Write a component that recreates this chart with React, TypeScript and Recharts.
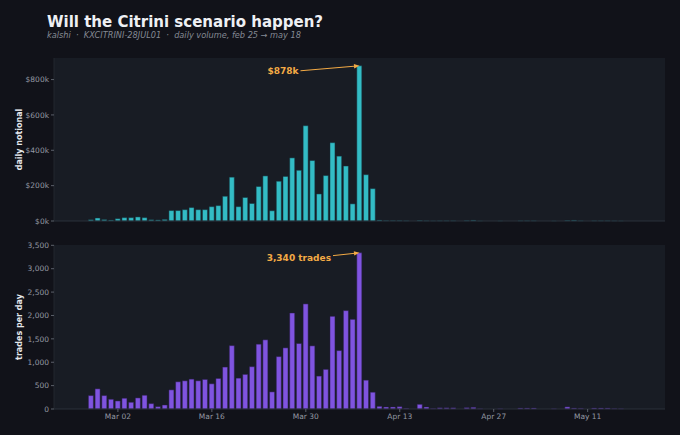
import { BarChart, Bar, XAxis, YAxis, CartesianGrid, ReferenceDot } from "recharts"

const days = [
  "Feb 25", "Feb 26", "Feb 27", "Feb 28",
  "Mar 01", "Mar 02", "Mar 03", "Mar 04", "Mar 05", "Mar 06", "Mar 07", "Mar 08", "Mar 09", "Mar 10",
  "Mar 11", "Mar 12", "Mar 13", "Mar 14", "Mar 15", "Mar 16", "Mar 17", "Mar 18", "Mar 19", "Mar 20",
  "Mar 21", "Mar 22", "Mar 23", "Mar 24", "Mar 25", "Mar 26", "Mar 27", "Mar 28", "Mar 29", "Mar 30", "Mar 31",
  "Apr 01", "Apr 02", "Apr 03", "Apr 04", "Apr 05", "Apr 06", "Apr 07", "Apr 08", "Apr 09", "Apr 10",
  "Apr 11", "Apr 12", "Apr 13", "Apr 14", "Apr 15", "Apr 16", "Apr 17", "Apr 18", "Apr 19", "Apr 20",
  "Apr 21", "Apr 22", "Apr 23", "Apr 24", "Apr 25", "Apr 26", "Apr 27", "Apr 28", "Apr 29", "Apr 30",
  "May 01", "May 02", "May 03", "May 04", "May 05", "May 06", "May 07", "May 08", "May 09", "May 10",
  "May 11", "May 12", "May 13", "May 14", "May 15", "May 16", "May 17", "May 18",
]

// daily notional, in $k
const notionalK = [
  0, 7, 17, 8,
  5, 13, 19, 19, 23, 19, 7, 6, 9, 59,
  59, 64, 76, 64, 64, 81, 87, 140, 248, 81,
  133, 99, 195, 255, 58, 225, 252, 357, 287, 539, 342,
  153, 257, 443, 367, 311, 97, 878, 262, 183, 5,
  2, 2, 2, 1, 0, 3, 1, 0.5, 1, 1,
  1, 0, 2, 4, 0.3, 0, 0, 0.3, 0, 0,
  1, 1, 1, 0, 0, 0.3, 0, 3, 4, 1,
  0, 1, 1, 1, 0.5, 0.3, 0, 0,
]

const tradesPerDay = [
  0, 287, 431, 287,
  208, 172, 230, 144, 237, 294, 115, 50, 86, 409,
  582, 603, 639, 603, 632, 539, 653, 897, 1355, 660,
  740, 905, 1386, 1479, 366, 1120, 1307, 2053, 1400, 2247, 1350,
  704, 847, 1982, 1249, 2104, 1917, 3340, 617, 359, 57,
  43, 43, 50, 14, 0, 100, 43, 10, 25, 25,
  25, 0, 28, 36, 5, 0, 0, 5, 0, 0,
  20, 20, 22, 0, 0, 5, 0, 45, 20, 15,
  0, 22, 22, 20, 8, 5, 0, 0,
]

const dateTicks = ["Mar 02", "Mar 16", "Mar 30", "Apr 13", "Apr 27", "May 11"]
const notionalTicks = [0, 200, 400, 600, 800]
const tradeTicks = [0, 500, 1000, 1500, 2000, 2500, 3000, 3500]

const rows = days.map((day, i) => ({ day, notional: notionalK[i], trades: tradesPerDay[i] }))

const peakNotional = Math.max(...notionalK)
const peakTrades = Math.max(...tradesPerDay)
const peakNotionalDay = days[notionalK.indexOf(peakNotional)]
const peakTradesDay = days[tradesPerDay.indexOf(peakTrades)]

const BG = "#111219"
const PANEL = "#181c24"
const TICK = "#9499a3"
const GOLD = "#f3aa45"
const FONT = "DejaVu Sans, Verdana, sans-serif"

function Callout(props: any) {
  const { cx, cy, text, textDx, textDy, startDx, startDy } = props
  if (cx == null || cy == null) return null
  const sx = cx + startDx
  const sy = cy + startDy
  const ang = Math.atan2(cy - sy, cx - sx)
  const len = 5.5
  const half = 2.2
  const bx = cx - len * Math.cos(ang)
  const by = cy - len * Math.sin(ang)
  const p1 = `${bx - half * Math.sin(ang)},${by + half * Math.cos(ang)}`
  const p2 = `${bx + half * Math.sin(ang)},${by - half * Math.cos(ang)}`
  return (
    <g>
      <line x1={sx} y1={sy} x2={bx} y2={by} stroke={GOLD} strokeWidth={1} />
      <polygon points={`${cx},${cy} ${p1} ${p2}`} fill={GOLD} />
      <text
        x={cx + textDx}
        y={cy + textDy}
        textAnchor="end"
        dominantBaseline="central"
        fill={GOLD}
        fontSize={9}
        fontWeight="bold"
      >
        {text}
      </text>
    </g>
  )
}

function YTitle(props: any) {
  const { viewBox, value } = props
  const x = viewBox.x + 19
  const y = viewBox.y + viewBox.height / 2
  return (
    <text
      x={x}
      y={y}
      transform={`rotate(-90, ${x}, ${y})`}
      textAnchor="middle"
      dominantBaseline="central"
      fill="#e4e7ec"
      fontSize={8}
      fontWeight="bold"
    >
      {value}
    </text>
  )
}

const tickStyle = { fill: TICK, fontSize: 7.5 }

export default function App() {
  return (
    <div
      style={{
        position: "absolute",
        left: 0,
        top: 0,
        width: 680,
        height: 435,
        background: BG,
        fontFamily: FONT,
        overflow: "hidden",
      }}
    >
      <svg width={680} height={50} style={{ position: "absolute", left: 0, top: 0 }}>
        <text x={47} y={26.5} fill="#eef0f4" fontSize={15} fontWeight="bold">
          Will the Citrini scenario happen?
        </text>
        <text
          x={47}
          y={37.5}
          fill="#858a94"
          fontSize={8.2}
          fontStyle="italic"
          style={{ whiteSpace: "pre" }}
        >
          {"kalshi  ·  KXCITRINI-28JUL01  ·  daily volume, feb 25 → may 18"}
        </text>
      </svg>

      <div style={{ position: "absolute", left: 0, top: 50 }}>
        <BarChart
          width={680}
          height={180}
          data={rows}
          margin={{ top: 8, right: 15, bottom: 0, left: 0 }}
          barCategoryGap="10%"
        >
          <CartesianGrid fill={PANEL} stroke="none" horizontal={false} vertical={false} />
          <XAxis
            dataKey="day"
            type="category"
            ticks={dateTicks}
            interval={0}
            padding={{ left: 27, right: 27 }}
            height={9}
            tick={false}
            tickSize={3}
            tickLine={{ stroke: "#5b606a" }}
            axisLine={{ stroke: "#2b303a" }}
          />
          <YAxis
            type="number"
            domain={[0, 922]}
            ticks={notionalTicks}
            width={54}
            tickSize={3}
            tickMargin={2}
            tick={tickStyle}
            tickLine={{ stroke: "#5b606a" }}
            axisLine={{ stroke: "#22262f" }}
            tickFormatter={(v: number) => `$${v}k`}
            label={<YTitle value="daily notional" />}
          />
          <Bar
            dataKey="notional"
            fill="#33bcc5"
            stroke="#16313a"
            strokeWidth={0.5}
            isAnimationActive={false}
          />
          <ReferenceDot
            x={peakNotionalDay}
            y={peakNotional}
            r={0}
            ifOverflow="visible"
            shape={(p: any) => (
              <Callout
                cx={p.cx}
                cy={p.cy}
                text={`$${peakNotional}k`}
                textDx={-61}
                textDy={5.5}
                startDx={-59}
                startDy={5}
              />
            )}
          />
        </BarChart>
      </div>

      <div style={{ position: "absolute", left: 0, top: 237 }}>
        <BarChart
          width={680}
          height={192}
          data={rows}
          margin={{ top: 8, right: 15, bottom: 0, left: 0 }}
          barCategoryGap="10%"
        >
          <CartesianGrid fill={PANEL} stroke="none" horizontal={false} vertical={false} />
          <XAxis
            dataKey="day"
            type="category"
            ticks={dateTicks}
            interval={0}
            padding={{ left: 27, right: 27 }}
            height={20}
            tick={tickStyle}
            tickSize={3}
            tickMargin={2}
            tickLine={{ stroke: "#5b606a" }}
            axisLine={{ stroke: "#2b303a" }}
          />
          <YAxis
            type="number"
            domain={[0, 3507]}
            ticks={tradeTicks}
            width={54}
            tickSize={3}
            tickMargin={2}
            tick={tickStyle}
            tickLine={{ stroke: "#5b606a" }}
            axisLine={{ stroke: "#22262f" }}
            tickFormatter={(v: number) => v.toLocaleString("en-US")}
            label={<YTitle value="trades per day" />}
          />
          <Bar
            dataKey="trades"
            fill="#7f54e0"
            stroke="#2a1f4a"
            strokeWidth={0.5}
            isAnimationActive={false}
          />
          <ReferenceDot
            x={peakTradesDay}
            y={peakTrades}
            r={0}
            ifOverflow="visible"
            shape={(p: any) => (
              <Callout
                cx={p.cx}
                cy={p.cy}
                text={`${peakTrades.toLocaleString("en-US")} trades`}
                textDx={-28.5}
                textDy={4.8}
                startDx={-26.5}
                startDy={2.8}
              />
            )}
          />
        </BarChart>
      </div>
    </div>
  )
}
